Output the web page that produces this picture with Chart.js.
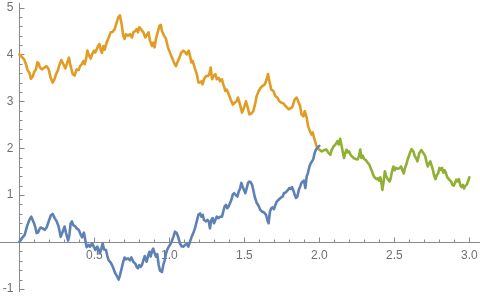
<!DOCTYPE html>
<html>
<head>
<meta charset="utf-8">
<script src="https://cdn.jsdelivr.net/npm/chart.js@4.4.0/dist/chart.umd.min.js"></script>
<style>
  html, body { margin: 0; padding: 0; background: #fff; }
  #wrap { width: 480px; height: 298px; position: relative; }
</style>
</head>
<body>
<div id="wrap"><canvas id="myChart"></canvas></div>
<script>
// three walk segments as [x, y]
var bluePath = [[0,0],[0.009,0.04],[0.022,0.10],[0.036,0.15],[0.045,0.26],[0.054,0.36],[0.067,0.47],[0.080,0.54],[0.089,0.47],[0.098,0.40],[0.107,0.31],[0.116,0.19],[0.125,0.20],[0.134,0.27],[0.142,0.31],[0.156,0.29],[0.169,0.26],[0.182,0.31],[0.196,0.44],[0.209,0.56],[0.222,0.60],[0.236,0.51],[0.249,0.44],[0.262,0.33],[0.276,0.11],[0.289,0.22],[0.302,0.33],[0.311,0.20],[0.325,0.03],[0.334,0.15],[0.342,0.39],[0.351,0.44],[0.360,0.36],[0.374,0.33],[0.382,0.29],[0.396,0.26],[0.405,0.19],[0.418,0.10],[0.431,0.20],[0.440,0.04],[0.449,-0.11],[0.462,-0.06],[0.471,-0.10],[0.485,-0.03],[0.498,-0.11],[0.507,-0.17],[0.520,-0.10],[0.529,-0.16],[0.538,-0.24],[0.547,-0.14],[0.556,-0.03],[0.565,-0.16],[0.578,-0.17],[0.587,-0.30],[0.596,-0.39],[0.609,-0.44],[0.618,-0.49],[0.627,-0.56],[0.640,-0.67],[0.653,-0.74],[0.662,-0.80],[0.671,-0.71],[0.684,-0.54],[0.693,-0.42],[0.702,-0.33],[0.711,-0.37],[0.725,-0.35],[0.738,-0.39],[0.747,-0.33],[0.760,-0.42],[0.773,-0.46],[0.782,-0.53],[0.791,-0.56],[0.800,-0.49],[0.809,-0.53],[0.818,-0.49],[0.827,-0.39],[0.836,-0.30],[0.849,-0.42],[0.858,-0.30],[0.867,-0.21],[0.876,-0.31],[0.885,-0.19],[0.893,-0.14],[0.902,-0.24],[0.911,-0.31],[0.920,-0.26],[0.929,-0.49],[0.938,-0.61],[0.951,-0.64],[0.960,-0.49],[0.969,-0.39],[0.978,-0.24],[0.987,-0.16],[0.996,-0.10],[1.005,-0.06],[1.016,0.01],[1.027,0.11],[1.038,0.22],[1.049,0.19],[1.060,0.10],[1.071,-0.03],[1.082,-0.09],[1.094,-0.10],[1.105,-0.06],[1.116,-0.04],[1.127,-0.10],[1.138,0.01],[1.149,0.11],[1.160,0.19],[1.171,0.29],[1.183,0.44],[1.194,0.58],[1.205,0.61],[1.214,0.54],[1.223,0.58],[1.231,0.47],[1.245,0.44],[1.254,0.47],[1.263,0.44],[1.271,0.29],[1.280,0.47],[1.289,0.51],[1.298,0.40],[1.307,0.47],[1.316,0.54],[1.329,0.51],[1.338,0.54],[1.351,0.54],[1.360,0.65],[1.369,0.76],[1.378,0.79],[1.387,0.72],[1.396,0.76],[1.405,0.83],[1.414,0.90],[1.423,1.01],[1.432,1.04],[1.440,1.01],[1.454,0.97],[1.463,1.08],[1.471,1.13],[1.480,1.26],[1.489,1.18],[1.498,1.11],[1.507,1.04],[1.516,1.15],[1.525,1.26],[1.534,1.29],[1.543,1.27],[1.552,1.22],[1.560,1.11],[1.569,0.97],[1.583,0.83],[1.596,0.77],[1.605,0.69],[1.618,0.65],[1.631,0.63],[1.645,0.58],[1.654,0.47],[1.662,0.40],[1.671,0.65],[1.680,0.72],[1.689,0.74],[1.698,0.70],[1.707,0.79],[1.716,0.86],[1.729,0.90],[1.742,0.94],[1.756,0.97],[1.764,1.04],[1.778,1.06],[1.791,1.11],[1.800,1.15],[1.809,1.13],[1.818,1.17],[1.827,1.10],[1.836,1.01],[1.845,0.94],[1.854,0.97],[1.863,1.11],[1.872,1.18],[1.881,1.26],[1.890,1.29],[1.898,1.31],[1.907,1.15],[1.916,1.40],[1.925,1.48],[1.934,1.61],[1.943,1.68],[1.952,1.72],[1.960,1.77],[1.969,1.90],[1.978,1.97],[1.990,2.02],[2.000,2.05]];

var orangePath = [[0,4.00],[0.016,3.95],[0.031,3.90],[0.045,3.79],[0.054,3.67],[0.067,3.61],[0.078,3.48],[0.089,3.53],[0.100,3.63],[0.111,3.68],[0.120,3.83],[0.129,3.81],[0.138,3.72],[0.151,3.68],[0.167,3.72],[0.182,3.75],[0.196,3.68],[0.209,3.50],[0.222,3.40],[0.234,3.47],[0.245,3.58],[0.256,3.65],[0.267,3.77],[0.280,3.88],[0.294,3.79],[0.307,3.70],[0.320,3.83],[0.331,3.93],[0.342,3.75],[0.356,3.58],[0.369,3.55],[0.382,3.68],[0.396,3.67],[0.405,3.75],[0.416,3.79],[0.427,3.86],[0.436,3.79],[0.445,3.90],[0.454,4.08],[0.462,4.00],[0.476,3.91],[0.485,4.00],[0.498,4.08],[0.507,4.04],[0.516,4.11],[0.525,4.18],[0.534,4.22],[0.542,4.11],[0.551,4.03],[0.560,4.18],[0.569,4.10],[0.582,4.25],[0.596,4.36],[0.609,4.47],[0.622,4.48],[0.636,4.54],[0.649,4.68],[0.660,4.79],[0.671,4.83],[0.682,4.65],[0.693,4.40],[0.702,4.33],[0.711,4.43],[0.725,4.40],[0.738,4.43],[0.751,4.36],[0.760,4.47],[0.773,4.50],[0.782,4.54],[0.791,4.47],[0.800,4.58],[0.813,4.53],[0.827,4.47],[0.840,4.36],[0.853,4.43],[0.862,4.47],[0.871,4.29],[0.885,4.18],[0.893,4.25],[0.902,4.15],[0.911,4.33],[0.925,4.50],[0.934,4.61],[0.943,4.63],[0.951,4.50],[0.965,4.40],[0.978,4.33],[0.991,4.15],[1.009,4.00],[1.022,3.90],[1.036,3.79],[1.045,3.75],[1.054,3.83],[1.067,3.93],[1.080,4.04],[1.094,4.08],[1.107,4.04],[1.116,4.00],[1.129,4.08],[1.138,3.97],[1.147,3.83],[1.156,3.86],[1.169,3.72],[1.183,3.58],[1.194,3.40],[1.205,3.40],[1.216,3.43],[1.222,3.36],[1.231,3.47],[1.245,3.54],[1.258,3.54],[1.267,3.58],[1.276,3.72],[1.285,3.47],[1.294,3.54],[1.307,3.58],[1.316,3.47],[1.329,3.50],[1.338,3.43],[1.351,3.47],[1.360,3.36],[1.374,3.22],[1.383,3.25],[1.396,3.15],[1.409,3.04],[1.423,2.93],[1.436,2.97],[1.449,3.00],[1.458,3.08],[1.471,2.93],[1.485,2.76],[1.498,2.86],[1.511,3.00],[1.520,2.90],[1.534,2.72],[1.547,2.74],[1.560,2.79],[1.574,2.97],[1.582,3.11],[1.596,3.22],[1.609,3.29],[1.623,3.33],[1.636,3.36],[1.649,3.47],[1.658,3.58],[1.667,3.43],[1.680,3.25],[1.694,3.22],[1.707,3.11],[1.720,3.08],[1.734,3.00],[1.747,2.97],[1.760,2.96],[1.774,2.90],[1.787,2.86],[1.796,2.83],[1.814,2.86],[1.823,2.90],[1.836,3.04],[1.849,3.08],[1.863,2.97],[1.872,2.90],[1.881,2.72],[1.894,2.68],[1.903,2.79],[1.916,2.65],[1.925,2.47],[1.938,2.36],[1.947,2.29],[1.956,2.34],[1.965,2.22],[1.978,2.08],[1.987,2.01],[2.000,1.97]];

var greenPath = [[2.000,1.97],[2.017,1.93],[2.032,1.96],[2.048,1.97],[2.061,1.90],[2.074,1.86],[2.082,1.96],[2.095,2.04],[2.108,2.08],[2.121,2.15],[2.130,2.08],[2.139,2.20],[2.147,2.08],[2.156,1.93],[2.165,1.79],[2.173,1.90],[2.182,1.97],[2.190,1.91],[2.199,1.93],[2.208,1.86],[2.216,1.83],[2.229,1.79],[2.242,1.77],[2.255,1.76],[2.264,1.83],[2.273,1.97],[2.281,1.79],[2.290,1.84],[2.299,1.77],[2.312,1.74],[2.325,1.68],[2.333,1.65],[2.342,1.58],[2.351,1.51],[2.359,1.43],[2.368,1.38],[2.381,1.34],[2.390,1.36],[2.398,1.31],[2.407,1.38],[2.416,1.22],[2.420,1.11],[2.429,1.29],[2.437,1.51],[2.446,1.40],[2.459,1.33],[2.468,1.29],[2.476,1.36],[2.485,1.51],[2.494,1.61],[2.502,1.53],[2.511,1.58],[2.524,1.56],[2.537,1.58],[2.545,1.61],[2.554,1.53],[2.563,1.46],[2.571,1.58],[2.580,1.65],[2.589,1.76],[2.602,1.88],[2.615,1.98],[2.628,1.93],[2.636,1.83],[2.645,1.79],[2.654,1.72],[2.667,1.90],[2.680,1.96],[2.693,1.90],[2.706,1.83],[2.714,1.72],[2.723,1.61],[2.732,1.68],[2.740,1.72],[2.749,1.63],[2.758,1.53],[2.766,1.41],[2.775,1.34],[2.784,1.43],[2.792,1.46],[2.801,1.58],[2.810,1.54],[2.818,1.58],[2.827,1.48],[2.835,1.53],[2.844,1.47],[2.853,1.38],[2.866,1.33],[2.879,1.29],[2.887,1.22],[2.896,1.20],[2.905,1.26],[2.913,1.33],[2.922,1.29],[2.931,1.34],[2.939,1.22],[2.948,1.17],[2.957,1.22],[2.965,1.14],[2.974,1.20],[2.983,1.22],[2.991,1.29],[3.000,1.38]];

// ticks
var xTicks = [0.5, 1.0, 1.5, 2.0, 2.5, 3.0];
var xTickLabels = ['0.5', '1.0', '1.5', '2.0', '2.5', '3.0'];
var xMinorTicks = [0.1, 0.2, 0.3, 0.4, 0.6, 0.7, 0.8, 0.9, 1.1, 1.2, 1.3, 1.4, 1.6, 1.7, 1.8, 1.9, 2.1, 2.2, 2.3, 2.4, 2.6, 2.7, 2.8, 2.9];
var yTicks = [-1, 1, 2, 3, 4, 5];
var yTickLabels = ['-1', '1', '2', '3', '4', '5'];
var yMinorTicks = [-0.8, -0.6, -0.4, -0.2, 0.2, 0.4, 0.6, 0.8, 1.2, 1.4, 1.6, 1.8, 2.2, 2.4, 2.6, 2.8, 3.2, 3.4, 3.6, 3.8, 4.2, 4.4, 4.6, 4.8];

var xMin = -0.1287, xMax = 3.0713, yMin = -1.194, yMax = 5.16;
var yAxisTop = 5.10, yAxisBottom = -1.07;

var axisColor = '#8a8a8a';
var labelColor = '#707070';
var tickFont = '12px "Liberation Sans", Arial, sans-serif';

function toPoints(path) {
    return path.map(function (p) { return { x: p[0], y: p[1] }; });
}

// Mathematica style axes crossing at the origin, ticks pointing inwards
var originAxes = {
    id: 'originAxes',
    beforeDatasetsDraw: function (chart) {
        var c = chart.ctx;
        var sx = chart.scales.x, sy = chart.scales.y;
        var ox = Math.round(sx.getPixelForValue(0)) + 0.5;
        var oy = Math.round(sy.getPixelForValue(0)) + 0.5;
        var px = function (v) { return Math.round(sx.getPixelForValue(v)) + 0.5; };
        var py = function (v) { return Math.round(sy.getPixelForValue(v)) + 0.5; };

        c.save();
        c.strokeStyle = axisColor;
        c.lineWidth = 1;
        c.beginPath();
        c.moveTo(sx.left, oy); c.lineTo(sx.right, oy);
        c.moveTo(ox, sy.getPixelForValue(yAxisTop)); c.lineTo(ox, sy.getPixelForValue(yAxisBottom));
        xTicks.forEach(function (v) { c.moveTo(px(v), oy); c.lineTo(px(v), oy - 5); });
        xMinorTicks.forEach(function (v) { c.moveTo(px(v), oy); c.lineTo(px(v), oy - 3); });
        yTicks.forEach(function (v) { c.moveTo(ox, py(v)); c.lineTo(ox + 5, py(v)); });
        yMinorTicks.forEach(function (v) { c.moveTo(ox, py(v)); c.lineTo(ox + 3, py(v)); });
        c.stroke();

        c.fillStyle = labelColor;
        c.font = tickFont;
        c.textAlign = 'center';
        c.textBaseline = 'alphabetic';
        xTicks.forEach(function (v, i) { c.fillText(xTickLabels[i], sx.getPixelForValue(v), oy + 16.5); });
        c.textAlign = 'right';
        c.textBaseline = 'middle';
        yTicks.forEach(function (v, i) { c.fillText(yTickLabels[i], ox - 6, sy.getPixelForValue(v)); });
        c.restore();
    }
};

var lineStyle = { borderWidth: 2.6, pointRadius: 0, fill: false, tension: 0, borderJoinStyle: 'round', borderCapStyle: 'round' };

var ctx = document.getElementById('myChart').getContext('2d');
var currentChart = new Chart(ctx, {
    type: 'line',
    data: {
        datasets: [
            Object.assign({ label: 'walk 1', data: toPoints(bluePath), borderColor: '#5e81b5' }, lineStyle),
            Object.assign({ label: 'walk 2', data: toPoints(orangePath), borderColor: '#e19c24' }, lineStyle),
            Object.assign({ label: 'walk 3', data: toPoints(greenPath), borderColor: '#8fb032' }, lineStyle)
        ]
    },
    options: {
        responsive: true,
        maintainAspectRatio: false,
        animation: false,
        layout: { padding: 0 },
        plugins: { legend: { display: false }, tooltip: { enabled: false } },
        scales: {
            x: { type: 'linear', min: xMin, max: xMax, display: false },
            y: { type: 'linear', min: yMin, max: yMax, display: false }
        }
    },
    plugins: [originAxes]
});
</script>
</body>
</html>
